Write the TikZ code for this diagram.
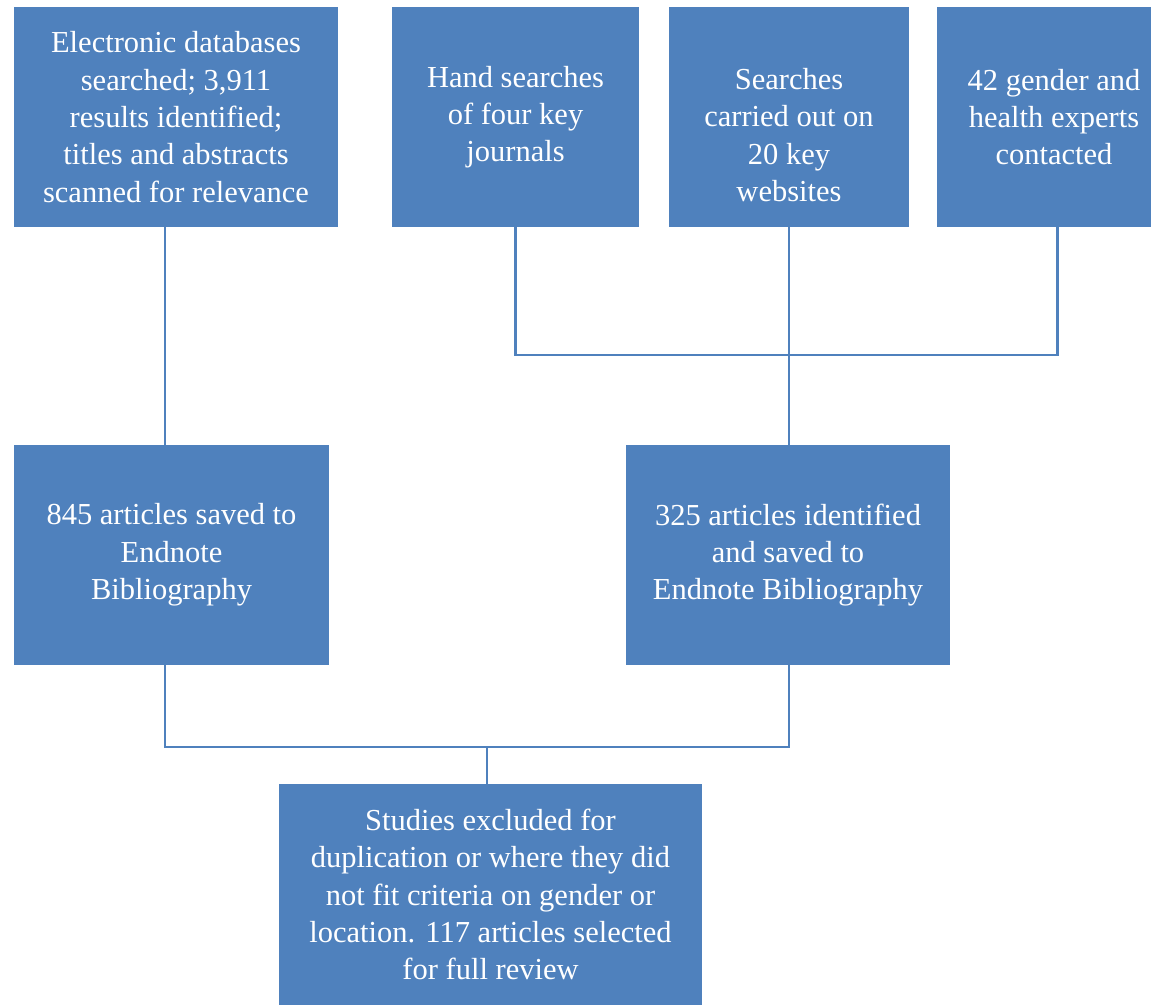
\documentclass[tikz,border=0pt]{standalone}
\usepackage{fontspec}
\setmainfont{Liberation Serif}
\definecolor{boxblue}{HTML}{4F81BD}
\begin{document}
\begin{tikzpicture}[x=1pt,y=-1pt,
  box/.style={fill=boxblue, text=white, inner sep=0pt, align=center,
    minimum height=220pt,
    font=\fontsize{30.5}{37.3}\selectfont},
  link/.style={draw=boxblue, line width=2.5pt}]
\clip (0,0) rectangle (1151,1004);
\fill[white] (0,0) rectangle (1151,1004);

\node[box, minimum width=324pt] (b1) at (176,117)
  {Electronic databases\\searched; 3,911\\results identified;\\titles and abstracts\\scanned for relevance};
\node[box, minimum width=247pt] (b2) at (515.5,117)
  {Hand searches\\of four key\\journals};
\node[box, minimum width=240pt] (b3) at (789,117)
  {\vphantom{E}\\Searches\\carried out on\\20 key\\websites};
\node[box, minimum width=234pt] (b4) at (1054,117)
  {42 gender and\\health experts\\contacted};
\node[box, minimum width=315pt] (b5) at (171.5,555)
  {845 articles saved to\\Endnote\\Bibliography};
\node[box, minimum width=324pt] (b6) at (788,555)
  {325 articles identified\\and saved to\\Endnote Bibliography};
\node[box, minimum width=423pt, minimum height=221pt] (b7) at (490.5,894.5)
  {Studies excluded for\\duplication or where they did\\not fit criteria on gender or\\location. 117 articles selected\\for full review};

\coordinate (x1) at (165,0);
\coordinate (x4) at (1057.5,0);
\coordinate (j1) at (789,355);
\coordinate (j2) at (487,747);

\draw[link] (b1.south -| x1) -- (b5.north -| x1);
\draw[link] (b2.south) |- (j1) -| (b4.south -| x4);
\draw[link] (b3.south) -- (b6.north -| b3.south);
\draw[link] (b5.south -| x1) |- (j2) -| (b6.south -| b3.south);
\draw[link] (j2) -- (b7.north -| j2);
\end{tikzpicture}
\end{document}
